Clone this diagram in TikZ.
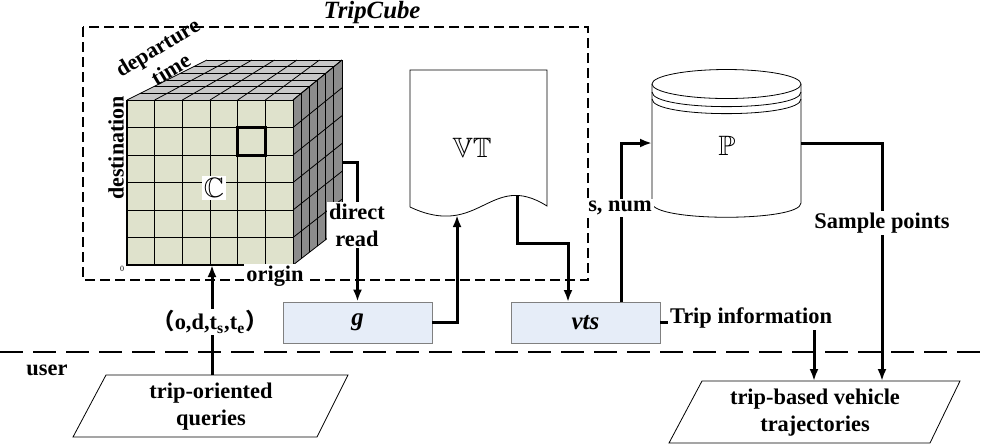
\documentclass[tikz,border=0pt]{standalone}
\usepackage{fontspec}
\setmainfont{Liberation Serif}
\newfontfamily\cjk{Noto Sans CJK SC}
\usepackage{amssymb}
\usetikzlibrary{calc,arrows.meta}
\definecolor{boxblue}{HTML}{E6EDF8}
\definecolor{cellfront}{HTML}{DFE2CC}
\definecolor{celltop}{HTML}{C8C8C8}
\definecolor{cellside}{HTML}{8C8C8C}
\begin{document}
\begin{tikzpicture}[x=0.5pt,y=-0.5pt,
  font=\fontsize{11.2}{13.5}\selectfont\bfseries,
  flow/.style={line width=1.5pt,-{Latex[length=6pt,width=4.5pt]}},
  wire/.style={line width=1.5pt},
  cell/.style={line width=0.4pt},
  blank/.style={fill=white,inner sep=1pt},
  axislbl/.style={inner sep=0pt,font=\fontsize{11}{12.9}\selectfont\bfseries},
  fnbox/.style={draw=black!50,fill=boxblue,minimum width=74.5pt,minimum height=20.5pt,inner sep=0pt,
    font=\fontsize{12.5}{14}\selectfont\bfseries\itshape},
  bbfont/.style={font=\fontsize{14}{14}\selectfont}]
\useasboundingbox (0,0) rectangle (985,447);

\coordinate (F1) at (127,100);
\coordinate (F2) at (293,100);
\coordinate (F3) at (293,265);
\coordinate (F4) at (127,265);
\coordinate (B1) at (207,60);
\coordinate (B2) at (342,60);
\coordinate (B3) at (342,227);

\draw[line width=0.6pt,dash pattern=on 5pt off 2.5pt] (83,27) rectangle (588,280);
\node[font=\fontsize{12.4}{14}\selectfont\bfseries\itshape] (title) at (372,13) {TripCube};

\fill[celltop] (F1)--(F2)--(B2)--(B1)--cycle;
\fill[cellside] (F2)--(B2)--(B3)--(F3)--cycle;
\fill[cellfront] (F1) rectangle (F3);
\foreach \i in {0,...,6}{
  \draw[cell] ($(F1)!\i/6!(F2)$) -- ($(B1)!\i/6!(B2)$);
  \draw[cell] ($(F1)!\i/6!(B1)$) -- ($(F2)!\i/6!(B2)$);
  \draw[cell] ($(F2)!\i/6!(B2)$) -- ($(F3)!\i/6!(B3)$);
  \draw[cell] ($(F2)!\i/6!(F3)$) -- ($(B2)!\i/6!(B3)$);
  \draw[cell] ($(F1)!\i/6!(F2)$) -- ($(F4)!\i/6!(F3)$);
  \draw[cell] ($(F1)!\i/6!(F4)$) -- ($(F2)!\i/6!(F3)$);
}
\draw[line width=0.8pt] (F1) -- (F4) -- (F3);
\draw[line width=1.5pt] (237.7,127.5) rectangle (265.3,155);
\node[blank,bbfont] (cc) at (214,188) {$\mathbb{C}$};
\node[inner sep=0pt,font=\fontsize{4}{4}\selectfont] (zero) at (122,269) {0};
\node[axislbl,rotate=90] (dest) at (116,148) {destination};
\node[axislbl,rotate=31,align=center] (dep) at (164,58) {departure\\time};
\node[blank] (orig) at (275,276) {origin};

\coordinate (d1) at (410,70);
\coordinate (d2) at (547,70);
\coordinate (d3) at (547,206);
\coordinate (d4) at (410,207);
\draw[fill=white] (d4) -- (d1) -- (d2) -- (d3) .. controls (490,170) and (480,240) .. (d4)
  node[coordinate,pos=0.72] (vtin) {} node[coordinate,pos=0.2] (vtout) {};
\node[bbfont] (vt) at (472,148) {$\mathbb{VT}$};

\draw[fill=white] (652,84) -- (652,203) .. controls (652,222) and (801,222) .. (801,203) -- (801,84);
\draw[fill=white] (726.5,84) ellipse [x radius=74.5,y radius=14.5];
\draw (652,92) .. controls (652,111.5) and (801,111.5) .. (801,92);
\draw (652,99) .. controls (652,118.5) and (801,118.5) .. (801,99);
\node[bbfont] (pp) at (727,146) {$\mathbb{P}$};
\coordinate (Pin) at (652,143);
\coordinate (Pout) at (801,143);

\node[fnbox] (g) at (357.5,322.5) {g};
\node[fnbox] (vts) at (585.5,322.5) {vts};

\draw[line width=1pt,dash pattern=on 11.5pt off 5pt] (0,352) -- (985,352);
\node (user) at (47,370) {user};

\draw[fill=white] (106,375) -- (348,375) -- (317,437) -- (73,437) -- cycle;
\node[align=center] (q) at (211,406.5) {trip-oriented\\queries};
\draw[fill=white] (702,381) -- (960,381) -- (930,443) -- (669,443) -- cycle;
\node[align=center] (traj) at (815,413) {trip-based vehicle\\trajectories};

\coordinate (qtop) at (212,375);
\coordinate (cubein) at (212,265);
\coordinate (cubeout) at (343,162);
\coordinate (vtsin) at (568,302);
\coordinate (vtsout) at (621,302);
\coordinate (tiout) at (814,330);
\coordinate (trajin1) at (814,381);
\coordinate (trajin2) at (882,381);

\draw[flow] (qtop) -- (cubein);
\node[blank] (odt) at (210,322) {{\cjk （}o,d,t\textsubscript{s},t\textsubscript{e}{\cjk ）}};

\draw[flow] (cubeout) -| (g.north);
\node[blank,align=center] (dr) at (357,225) {direct\\read};

\draw[flow] (g.east) -| (vtin);
\draw[flow] (vtout) -- ++(0,48) -| (vtsin);

\draw[flow] (vtsout) |- (Pin);
\node[blank] (sn) at (620,208) {s, num};

\draw[flow] (Pout) -| (trajin2);
\node[blank] (sp) at (882,223) {Sample points};

\node[inner sep=1pt] (ti) at (751,318) {Trip information};
\draw[wire] (vts.east) -- (vts.east -| ti.west);
\draw[flow] (tiout) -- (trajin1);
\end{tikzpicture}
\end{document}
